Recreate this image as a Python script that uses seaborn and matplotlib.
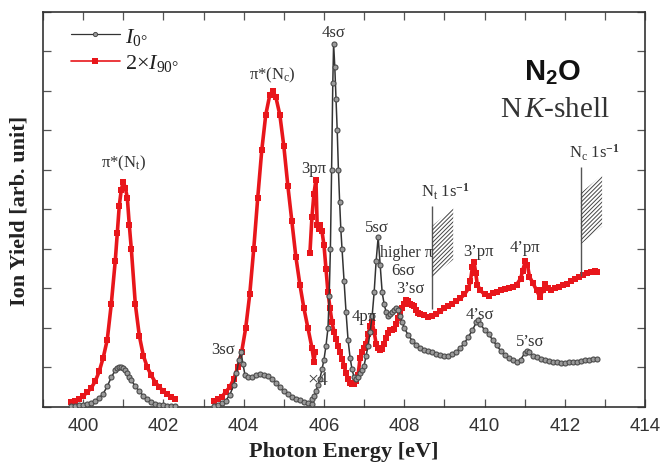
import numpy as np
import pandas as pd
import matplotlib
matplotlib.use("Agg")
import matplotlib.pyplot as plt
import seaborn as sns
from matplotlib.lines import Line2D
from matplotlib.patches import Polygon

# ---------------- data ----------------
# segment 1 : pi*(Nt) region
x1 = [399.7, 399.8, 399.9, 400.0, 400.1, 400.2, 400.3, 400.4, 400.5, 400.6, 400.7,
      400.8, 400.85, 400.9, 400.95, 401.0, 401.05, 401.1, 401.15, 401.2, 401.3, 401.4,
      401.5, 401.6, 401.7, 401.8, 401.9, 402.0, 402.1, 402.2, 402.3]
red1 = [0.12, 0.15, 0.2, 0.28, 0.37, 0.48, 0.65, 0.9, 1.25, 1.7, 2.6,
        3.7, 4.4, 5.1, 5.5, 5.7, 5.55, 5.3, 4.6, 4.0, 2.6, 1.8,
        1.3, 1.0, 0.8, 0.62, 0.5, 0.4, 0.32, 0.25, 0.2]
gray1 = [0.02, 0.03, 0.04, 0.06, 0.08, 0.11, 0.16, 0.23, 0.34, 0.52, 0.75,
         0.93, 0.98, 1.02, 1.02, 0.98, 0.93, 0.85, 0.77, 0.68, 0.52, 0.4,
         0.28, 0.19, 0.12, 0.08, 0.06, 0.04, 0.03, 0.02, 0.02]

# segment 2 : 3s sigma / pi*(Nc) region
x2r = [403.25, 403.35, 403.45, 403.55, 403.65, 403.75, 403.85, 403.95, 404.05, 404.15,
       404.25, 404.35, 404.45, 404.55, 404.65, 404.72, 404.8, 404.9, 405.0, 405.1,
       405.2, 405.3, 405.4, 405.5, 405.6, 405.7, 405.75, 405.78]
red2 = [0.15, 0.2, 0.25, 0.38, 0.5, 0.7, 1.0, 1.4, 2.0, 2.85,
        4.0, 5.3, 6.5, 7.4, 7.9, 8.0, 7.85, 7.4, 6.6, 5.6,
        4.7, 3.8, 3.1, 2.5, 2.0, 1.5, 1.15, 1.4]
x2g = [403.25, 403.35, 403.45, 403.55, 403.65, 403.75, 403.82, 403.88, 403.93, 403.98,
       404.03, 404.1, 404.2, 404.3, 404.4, 404.5, 404.6, 404.7, 404.8, 404.9,
       405.0, 405.1, 405.2, 405.3, 405.4, 405.5, 405.6, 405.7]
gray2 = [0.03, 0.06, 0.1, 0.16, 0.3, 0.55, 0.85, 1.2, 1.4, 1.1,
         0.82, 0.75, 0.76, 0.8, 0.83, 0.82, 0.78, 0.72, 0.62, 0.5,
         0.4, 0.32, 0.26, 0.21, 0.17, 0.13, 0.1, 0.08]

# segment 3 : Rydberg region (I0 is shown x4 here)
x3g = [405.7, 405.75, 405.8, 405.85, 405.9, 405.95, 406.0, 406.05, 406.1, 406.13,
       406.16, 406.19, 406.22, 406.24, 406.27, 406.3, 406.33, 406.36, 406.39, 406.42,
       406.45, 406.5, 406.55, 406.6, 406.65, 406.7, 406.75, 406.8, 406.85, 406.9,
       406.95, 407.0, 407.05, 407.1, 407.15, 407.2, 407.25, 407.3, 407.35, 407.4,
       407.45, 407.5, 407.55, 407.6, 407.65, 407.7, 407.75, 407.8, 407.85, 407.9,
       407.95, 408.0, 408.1, 408.2, 408.3, 408.4, 408.5, 408.6, 408.7, 408.8,
       408.9, 409.0, 409.1, 409.2, 409.3, 409.4, 409.5, 409.6, 409.7, 409.8,
       409.85, 409.9, 410.0, 410.1, 410.2, 410.3, 410.4, 410.5, 410.6, 410.7,
       410.8, 410.9, 411.0, 411.05, 411.1, 411.2, 411.3, 411.4, 411.5, 411.6,
       411.7, 411.8, 411.9, 412.0, 412.1, 412.2, 412.3, 412.4, 412.5, 412.6,
       412.7, 412.8]
gray3 = [0.2, 0.28, 0.4, 0.55, 0.72, 0.95, 1.2, 1.55, 2.0, 2.8,
         4.0, 6.0, 8.2, 9.2, 8.6, 7.8, 7.0, 6.0, 5.2, 4.5,
         4.0, 3.2, 2.4, 1.7, 1.25, 0.95, 0.75, 0.7, 0.76, 0.85,
         0.93, 1.05, 1.3, 1.55, 1.9, 2.3, 2.9, 3.7, 4.3, 3.6,
         2.9, 2.6, 2.4, 2.3, 2.35, 2.4, 2.45, 2.5, 2.45, 2.3,
         2.15, 2.0, 1.82, 1.68, 1.58, 1.5, 1.45, 1.42, 1.38, 1.34,
         1.31, 1.3, 1.3, 1.34, 1.4, 1.5, 1.62, 1.78, 1.95, 2.15,
         2.2, 2.1, 1.95, 1.85, 1.7, 1.56, 1.43, 1.32, 1.25, 1.19,
         1.14, 1.2, 1.36, 1.42, 1.38, 1.3, 1.27, 1.22, 1.18, 1.16,
         1.14, 1.13, 1.12, 1.12, 1.13, 1.14, 1.15, 1.16, 1.18, 1.2,
         1.21, 1.22]
x3r = [405.65, 405.7, 405.75, 405.8, 405.83, 405.87, 405.9, 405.95, 406.0, 406.05,
       406.1, 406.15, 406.2, 406.25, 406.3, 406.35, 406.4, 406.45, 406.5, 406.55,
       406.6, 406.65, 406.7, 406.75, 406.8, 406.85, 406.9, 406.95, 407.0, 407.05,
       407.1, 407.15, 407.2, 407.25, 407.3, 407.35, 407.4, 407.45, 407.5, 407.55,
       407.6, 407.65, 407.7, 407.75, 407.8, 407.85, 407.9, 407.95, 408.0, 408.05,
       408.1, 408.15, 408.2, 408.25, 408.3, 408.35, 408.4, 408.5, 408.6, 408.7,
       408.8, 408.9, 409.0, 409.1, 409.2, 409.3, 409.4, 409.5, 409.6, 409.65,
       409.7, 409.74, 409.78, 409.82, 409.9, 410.0, 410.1, 410.2, 410.3, 410.4,
       410.5, 410.6, 410.7, 410.8, 410.9, 410.95, 411.02, 411.07, 411.12, 411.2,
       411.3, 411.38, 411.45, 411.51, 411.57, 411.65, 411.75, 411.85, 411.95, 412.05,
       412.15, 412.25, 412.35, 412.45, 412.55, 412.65, 412.75, 412.8]
red3 = [3.9, 4.8, 5.4, 5.75, 4.6, 4.5, 4.6, 4.45, 4.1, 3.5,
        2.9, 2.5, 2.15, 1.9, 1.72, 1.55, 1.38, 1.22, 1.05, 0.85,
        0.7, 0.62, 0.58, 0.58, 0.65, 0.8, 1.25, 1.4, 1.5, 1.6,
        1.85, 2.05, 2.15, 1.9, 1.6, 1.5, 1.45, 1.47, 1.6, 1.75,
        1.88, 1.95, 1.95, 1.98, 2.1, 2.25, 2.35, 2.5, 2.62, 2.72,
        2.68, 2.62, 2.58, 2.55, 2.45, 2.38, 2.35, 2.32, 2.28, 2.3,
        2.35, 2.42, 2.5, 2.55, 2.62, 2.68, 2.75, 2.85, 3.0, 3.2,
        3.55, 3.67, 3.4, 3.1, 2.95, 2.85, 2.82, 2.88, 2.92, 2.95,
        2.98, 3.0, 3.04, 3.1, 3.25, 3.45, 3.7, 3.6, 3.3, 3.15,
        2.95, 2.78, 2.95, 3.12, 3.0, 2.95, 3.0, 3.05, 3.1, 3.12,
        3.18, 3.25, 3.3, 3.35, 3.4, 3.43, 3.45, 3.43]

# ionisation thresholds [eV]: (x, line bottom, line top)
thresholds = [408.69, 412.40]
threshold_line_bottom = [2.48, 3.32]
threshold_line_top = [5.09, 6.08]
threshold_labels = ["N$_\\mathrm{t}$ 1s$^{\\mathbf{-1}}$", "N$_\\mathrm{c}$ 1s$^{\\mathbf{-1}}$"]

x_ticks = [400, 402, 404, 406, 408, 410, 412, 414]
x_tick_labels = ["400", "402", "404", "406", "408", "410", "412", "414"]

# peak assignments: (label, x, y)
peak_labels = ["π*(N$_\\mathrm{t}$)", "π*(N$_\\mathrm{c}$)", "3pπ", "4sσ", "5sσ",
               "higher π", "6sσ", "3’sσ", "4pπ", "3sσ", "3’pπ", "4’pπ", "4’sσ", "5’sσ"]
peak_label_x = [401.0, 404.71, 405.74, 406.23, 407.32, 408.05, 407.97, 408.15,
                407.0, 403.49, 409.84, 411.0, 409.89, 411.14]
peak_label_y = [6.2, 8.43, 6.05, 9.5, 4.56, 3.92, 3.47, 3.0,
                2.3, 1.47, 3.95, 4.05, 2.35, 1.67]

# ---------------- style ----------------
sns.set_theme(style="ticks")
plt.rcParams["font.family"] = ["Liberation Serif", "DejaVu Serif"]
plt.rcParams["mathtext.fontset"] = "custom"
plt.rcParams["mathtext.rm"] = "Liberation Serif"
plt.rcParams["mathtext.it"] = "Liberation Serif:italic"
plt.rcParams["mathtext.bf"] = "Liberation Serif:bold"
plt.rcParams["mathtext.sf"] = "Liberation Sans:bold"
plt.rcParams["hatch.linewidth"] = 0.7
plt.rcParams["hatch.color"] = "#444444"

RED = "#e8161b"
GRAYLINE = "#333333"
TXT = "#333333"

fig = plt.figure(figsize=(6.65, 4.64), dpi=100)
ax = fig.add_axes([0.0647, 0.1207, 0.9053, 0.8513])

red_kw = dict(color=RED, marker="s", markersize=4.2, markeredgewidth=0,
              linewidth=2.6, estimator=None, sort=False, ax=ax, zorder=2)
gray_kw = dict(color=GRAYLINE, marker="o", markersize=3.6, markerfacecolor="#9a9a9a",
               markeredgecolor="#4a4a4a", markeredgewidth=0.8, linewidth=1.1,
               estimator=None, sort=False, ax=ax, zorder=3)

for xs, ys in [(x1, red1), (x2r, red2), (x3r, red3)]:
    sns.lineplot(data=pd.DataFrame({"E": xs, "Y": ys}), x="E", y="Y", **red_kw)
for xs, ys in [(x1, gray1), (x2g, gray2), (x3g, gray3)]:
    sns.lineplot(data=pd.DataFrame({"E": xs, "Y": ys}), x="E", y="Y", **gray_kw)

# thresholds with hatched bands
for xt, yb, yt, lab in zip(thresholds, threshold_line_bottom, threshold_line_top, threshold_labels):
    ax.vlines(xt, yb, yt, color="#555555", linewidth=1.0, zorder=4)
    w, h, sl = 0.53, 1.3, 0.45
    y0 = yb + 0.8
    poly = Polygon([(xt, y0), (xt + w, y0 + sl), (xt + w, y0 + sl + h), (xt, y0 + h)],
                   closed=True, fill=False, hatch="////////", linewidth=0,
                   edgecolor="#444444", zorder=4)
    ax.add_patch(poly)
    ax.text(xt + 0.33, yt + 0.12, lab, ha="center", va="bottom", fontsize=12, color=TXT)

for lab, lx, ly in zip(peak_labels, peak_label_x, peak_label_y):
    fs = 11.5 if lab == "higher π" else 12
    ax.text(lx, ly, lab, ha="center", va="center", fontsize=fs, color=TXT, zorder=5)

ax.text(405.85, 0.7, "×4", ha="center", va="center", fontsize=14, color="#444444", zorder=5)
ax.text(411.7, 8.5, r"$\mathsf{N_2O}$", ha="center", va="center", fontsize=21, color="#111111")
ax.text(411.76, 7.54, r"N$\,\mathit{K}$-shell", ha="center", va="center", fontsize=21, color=TXT)

# axes
ax.set_xlim(399, 414)
ax.set_ylim(0, 10)
ax.set_xticks(x_ticks)
ax.set_xticklabels(x_tick_labels, family=["Liberation Sans", "DejaVu Sans"], fontsize=13.5, color="#333333")
ax.set_xticks(np.arange(399, 415, 2), minor=True)
ax.set_yticks(np.arange(0, 11, 1))
ax.set_yticklabels([])
ax.tick_params(which="both", direction="in", top=True, right=True, length=5.5,
               width=0.9, color="#555555", pad=7)
for s in ax.spines.values():
    s.set_linewidth(1.2)
    s.set_color("#333333")

ax.set_xlabel("Photon Energy [eV]", fontsize=16, fontweight="bold", color="#222222")
ax.set_ylabel("Ion Yield [arb. unit]", fontsize=16, fontweight="bold", color="#222222")
ax.xaxis.set_label_coords(0.5, -0.085)
ax.yaxis.set_label_coords(-0.022, 0.5)

handles = [Line2D([], [], color=GRAYLINE, marker="o", markersize=3.0, markerfacecolor="#9a9a9a",
                  markeredgecolor="#4a4a4a", markeredgewidth=0.7, linewidth=0.9),
           Line2D([], [], color=RED, marker="s", markersize=4, markeredgewidth=0, linewidth=1.2)]
leg = ax.legend(handles, [r"$I_{0°}$", r"$2{\times}I_{90°}$"], loc="upper left",
                bbox_to_anchor=(0.046, 0.965), frameon=False, fontsize=16,
                handlelength=2.2, handletextpad=0.25, labelspacing=0.25,
                borderpad=0, borderaxespad=0, numpoints=1)
for t in leg.get_texts():
    t.set_color("#222222")

fig.savefig("out.png", dpi=100)
